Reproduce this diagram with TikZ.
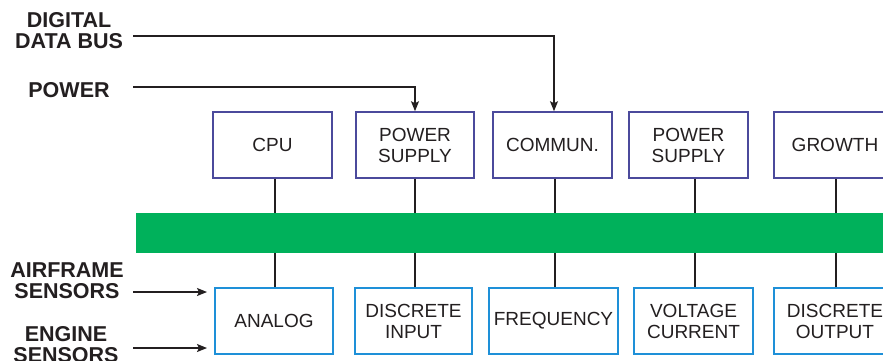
\documentclass[tikz,border=0pt]{standalone}
\usepackage{fontspec}
\setmainfont{Liberation Sans}
\usetikzlibrary{arrows.meta}
\definecolor{txt}{HTML}{231F20}
\definecolor{topc}{HTML}{4B4A9C}
\definecolor{botc}{HTML}{1E90D8}
\definecolor{busg}{HTML}{00B15B}
\begin{document}
\begin{tikzpicture}[x=1pt,y=-1pt,
  topbox/.style={draw=topc, line width=1.6pt, minimum width=119pt, minimum height=66pt,
    align=center, text=txt, font=\fontsize{19}{21}\selectfont, inner sep=0pt},
  botbox/.style={topbox, draw=botc},
  lbl/.style={align=center, text=txt, font=\fontsize{21.5}{21}\selectfont\bfseries, inner sep=0pt},
  conn/.style={draw=txt, line width=1.3pt},
  arr/.style={conn, -{Stealth[length=10pt,width=8pt,inset=2pt]}}]
\useasboundingbox (0,0) rectangle (883,360);
\clip (0,0) rectangle (883,360);
\fill[white] (0,0) rectangle (883,360);

% bus bar
\node[fill=busg, draw=none, minimum width=760pt, minimum height=40pt, inner sep=0pt,
  anchor=north west] (bus) at (136,213) {};

% top boxes
\node[topbox] (cpu) at (272.5,145) {CPU};
\node[topbox, minimum width=118pt] (ps1) at (415,145) {POWER\\SUPPLY};
\node[topbox] (com) at (552.5,145) {COMMUN.};
\node[topbox] (ps2) at (688.5,145) {POWER\\SUPPLY};
\node[topbox, minimum width=122pt] (gro) at (835,145) {GROWTH};

% bottom boxes
\node[botbox, minimum width=118pt] (ana) at (274,321) {ANALOG};
\node[botbox, minimum width=117pt] (din) at (413.5,321) {DISCRETE\\INPUT};
\node[botbox, minimum width=129pt] (frq) at (553.5,321) {FREQUENCY};
\node[botbox] (vc) at (693.5,321) {VOLTAGE\\CURRENT};
\node[botbox, minimum width=122pt] (dout) at (835,321) {DISCRETE\\OUTPUT};

% labels
\node[lbl] (ldb) at (69,31) {DIGITAL\\DATA BUS};
\node[lbl] (lpw) at (69,90) {POWER};
\node[lbl] (laf) at (67,281) {AIRFRAME\\SENSORS};
\node[lbl] (len) at (66,345) {ENGINE\\SENSORS};

% free ends
\coordinate (sdb) at (133,36);
\coordinate (spw) at (133,87);
\coordinate (saf) at (133,292);
\coordinate (sen) at (133,348);
\coordinate (taf) at (207,292);
\coordinate (ten) at (207,348);

% input arrows
\draw[arr] (sdb) -| ([xshift=1.5pt]com.north);
\draw[arr] (spw) -| (ps1.north);
\draw[arr] (saf) -- (taf);
\draw[arr] (sen) -- (ten);

% bus connectors, top
\draw[conn] ([xshift=2.5pt]cpu.south) -- ([xshift=2.5pt]cpu.south |- bus.north);
\draw[conn] (ps1.south) -- (ps1.south |- bus.north);
\draw[conn] ([xshift=2.5pt]com.south) -- ([xshift=2.5pt]com.south |- bus.north);
\draw[conn] ([xshift=6.5pt]ps2.south) -- ([xshift=6.5pt]ps2.south |- bus.north);
\draw[conn] ([xshift=1pt]gro.south) -- ([xshift=1pt]gro.south |- bus.north);

% bus connectors, bottom
\draw[conn] ([xshift=1pt]ana.north) -- ([xshift=1pt]ana.north |- bus.south);
\draw[conn] ([xshift=1.5pt]din.north) -- ([xshift=1.5pt]din.north |- bus.south);
\draw[conn] ([xshift=1.5pt]frq.north) -- ([xshift=1.5pt]frq.north |- bus.south);
\draw[conn] ([xshift=1.5pt]vc.north) -- ([xshift=1.5pt]vc.north |- bus.south);
\draw[conn] ([xshift=1pt]dout.north) -- ([xshift=1pt]dout.north |- bus.south);
\end{tikzpicture}
\end{document}
